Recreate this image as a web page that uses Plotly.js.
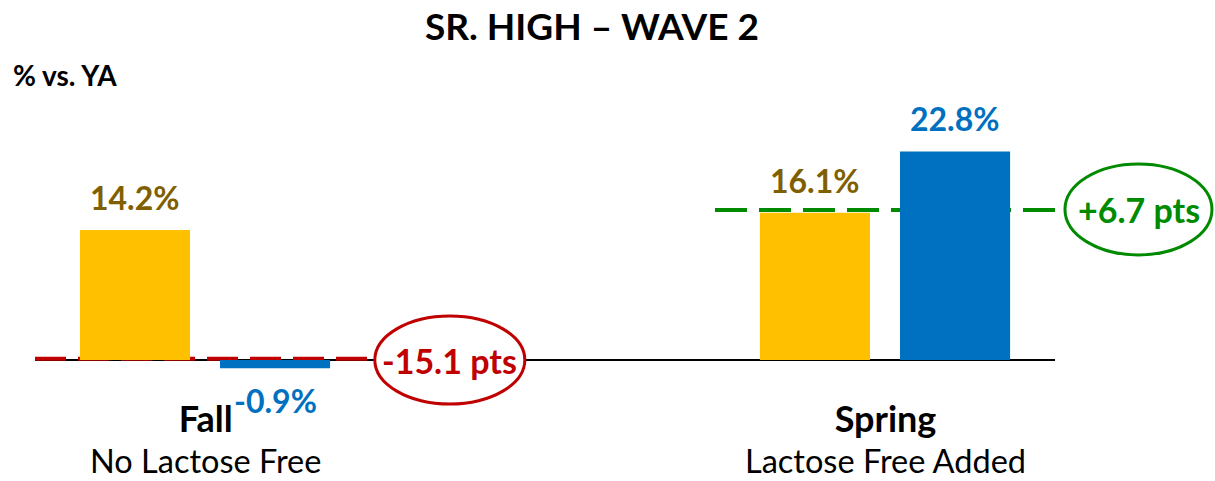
<!DOCTYPE html>
<html>
<head>
<meta charset="utf-8">
<script src="https://cdn.plot.ly/plotly-3.0.1.min.js"></script>
<style>html,body{margin:0;padding:0;background:#fff;}#chart{width:1215px;height:481px;}</style>
</head>
<body>
<div id="chart"></div>
<script>
// ---- data ----
const categories = ["Fall", "Spring"];
const subtitles = ["No Lactose Free", "Lactose Free Added"];
const yellowValues = [14.2, 16.1];
const blueValues = [-0.9, 22.8];
const titleText = "SR. HIGH – WAVE 2";
const unitLabel = "% vs. YA";

// ---- style ----
const YELLOW = "#FFC000", BLUE = "#0070C0", BROWN = "#7F6000", RED = "#C00000", GREEN = "#008A00";
const FONT = "Lato, 'Open Sans', sans-serif";
const BARGAP = 0.588, BARGROUPGAP = 0.214;
const slot = (1 - BARGAP) / 2;
const off = slot / 2;

const fmt = v => v.toFixed(1) + "%";
const diffs = categories.map((c, i) => blueValues[i] - yellowValues[i]);
const diffText = d => (d > 0 ? "+" : "") + d.toFixed(1) + " pts";

const traces = [
  {type: "bar", x: categories, y: yellowValues, marker: {color: YELLOW}, hoverinfo: "skip", showlegend: false},
  {type: "bar", x: categories, y: blueValues, marker: {color: BLUE}, hoverinfo: "skip", showlegend: false}
];

const annotations = [];
categories.forEach((c, i) => {
  [[yellowValues[i], -off, BROWN], [blueValues[i], off, BLUE]].forEach(([v, o, col]) => {
    annotations.push({
      x: i + o, y: v, xref: "x", yref: "y", text: fmt(v), showarrow: false,
      xanchor: "center", yanchor: v >= 0 ? "bottom" : "top", yshift: v >= 0 ? 11 : -11,
      font: {family: FONT, size: 32, color: col, weight: 700}
    });
  });
  annotations.push({x: i, y: 0, xref: "x", yref: "y",
    text: '<span style="font-size:36px;font-weight:bold">' + c + '</span><br><span style="font-size:32.5px">' + subtitles[i] + '</span>',
    showarrow: false, xanchor: "center", yanchor: "top", yshift: -34,
    font: {family: FONT, size: 31.5, color: "#000"}});
});

// difference callouts
const redX = 0.36, greenX = 1.3735;
const greenY = yellowValues[1] + 0.3;
annotations.push({x: redX, y: 0, xref: "x", yref: "y", text: diffText(diffs[0]), showarrow: false,
  xanchor: "center", yanchor: "middle", font: {family: FONT, size: 34, color: RED, weight: 700}});
annotations.push({x: greenX, y: greenY, xref: "x", yref: "y", text: diffText(diffs[1]), showarrow: false,
  xanchor: "center", yanchor: "middle", font: {family: FONT, size: 34, color: GREEN, weight: 700}});
annotations.push({x: 11 / 1215, y: (481 - 75) / 481, xref: "paper", yref: "paper", text: unitLabel, showarrow: false,
  xanchor: "left", yanchor: "middle", font: {family: FONT, size: 28, color: "#000", weight: 700}});

const shapes = [
  {type: "line", layer: "below", xref: "x", yref: "y", x0: -0.25, x1: 1.25, y0: 0, y1: 0,
   line: {color: "#000", width: 2}},
  {type: "line", layer: "below", xref: "x", yref: "y", x0: -0.25, x1: 0.25, y0: 0.15, y1: 0.15,
   line: {color: RED, width: 4, dash: "31px,12px"}},
  {type: "line", layer: "below", xref: "x", yref: "y", x0: 0.75, x1: 1.265, y0: greenY, y1: greenY,
   line: {color: GREEN, width: 4, dash: "32px,12px"}},
  {type: "circle", xref: "x", yref: "y", xsizemode: "pixel", ysizemode: "pixel",
   xanchor: redX, yanchor: 0, x0: -75, x1: 75, y0: -44, y1: 44,
   line: {color: RED, width: 3}, fillcolor: "rgba(255,255,255,1)"},
  {type: "circle", xref: "x", yref: "y", xsizemode: "pixel", ysizemode: "pixel",
   xanchor: greenX, yanchor: greenY, x0: -74, x1: 73, y0: -45, y1: 46,
   line: {color: GREEN, width: 3}, fillcolor: "rgba(255,255,255,1)"}
];

const layout = {
  width: 1215, height: 481,
  margin: {l: 0, r: 0, t: 0, b: 0},
  paper_bgcolor: "#fff", plot_bgcolor: "#fff",
  title: {text: titleText, x: 592 / 1215, xref: "container", xanchor: "center",
          y: (481 - 27) / 481, yref: "container", yanchor: "middle",
          font: {family: FONT, size: 37, color: "#000", weight: 700}},
  barmode: "group", bargap: BARGAP, bargroupgap: BARGROUPGAP,
  xaxis: {type: "category", range: [-0.3015, 1.4853], showgrid: false, zeroline: false,
          showticklabels: false, showline: false, fixedrange: true},
  yaxis: {range: [-121 / 9.15, 360 / 9.15], showgrid: false, zeroline: false,
          showticklabels: false, showline: false, fixedrange: true},
  annotations: annotations, shapes: shapes, showlegend: false,
  font: {family: FONT}
};

Plotly.newPlot("chart", traces, layout, {displayModeBar: false, staticPlot: true});
</script>
</body>
</html>
